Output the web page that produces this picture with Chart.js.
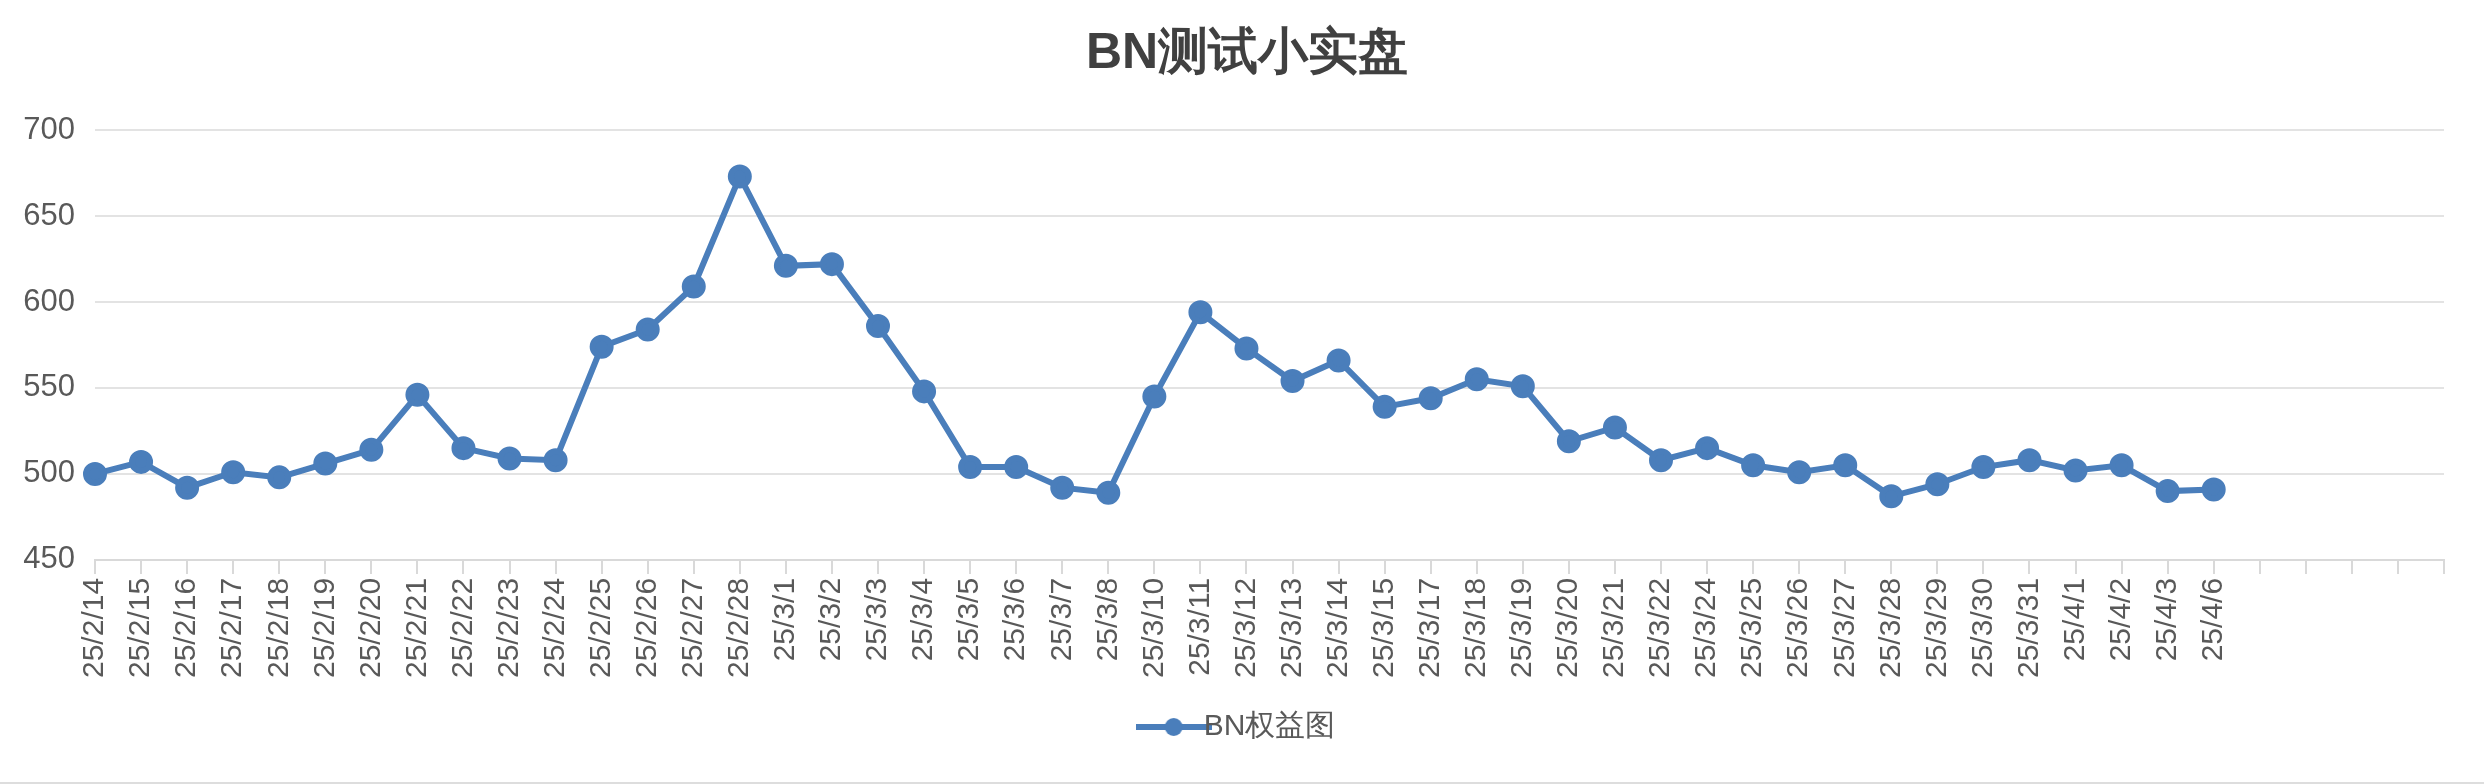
<!DOCTYPE html>
<html><head><meta charset="utf-8">
<script src="https://cdn.jsdelivr.net/npm/chart.js@4"></script>
<style>html,body{margin:0;padding:0;background:#fff}#w{width:2484px;height:782px;border-bottom:2px solid #ddd}</style>
</head><body><div id="w"><canvas id="c"></canvas></div>
<script>
const categories=["25/2/14","25/2/15","25/2/16","25/2/17","25/2/18","25/2/19","25/2/20","25/2/21","25/2/22","25/2/23","25/2/24","25/2/25","25/2/26","25/2/27","25/2/28","25/3/1","25/3/2","25/3/3","25/3/4","25/3/5","25/3/6","25/3/7","25/3/8","25/3/10","25/3/11","25/3/12","25/3/13","25/3/14","25/3/15","25/3/17","25/3/18","25/3/19","25/3/20","25/3/21","25/3/22","25/3/24","25/3/25","25/3/26","25/3/27","25/3/28","25/3/29","25/3/30","25/3/31","25/4/1","25/4/2","25/4/3","25/4/6","","","","",""];
const equity=[500,507,492,501,498,506,514,546,515,509,508,574,584,609,673,621,622,586,548,504,504,492,489,545,594,573,554,566,539,544,555,551,519,527,508,515,505,501,505,487,494,504,508,502,505,490,491];
const yTicks=[450,500,550,600,650,700];
const font="'Liberation Sans', Arial, sans-serif";
Chart.defaults.font.family=font;
Chart.defaults.color="#595959";
const COLOR='#4a7ebb';
const ls=document.createElement('canvas');ls.width=76;ls.height=22;
{const g=ls.getContext('2d');g.strokeStyle=COLOR;g.lineWidth=6;g.beginPath();g.moveTo(0,11);g.lineTo(76,11);g.stroke();g.fillStyle=COLOR;g.beginPath();g.arc(38,11,9,0,Math.PI*2);g.fill();}
new Chart(document.getElementById('c'),{type:'line',
data:{labels:categories,datasets:[{label:'BN权益图',data:equity,borderColor:COLOR,backgroundColor:COLOR,borderWidth:6,pointRadius:9,pointHoverRadius:9,tension:0,pointStyle:'circle'}]},
options:{responsive:true,maintainAspectRatio:false,animation:false,
layout:{padding:{left:10,right:0,top:0,bottom:30}},
plugins:{title:{display:true,text:'BN测试小实盘',color:'#404040',font:{size:50,weight:'bold'},padding:{top:24,bottom:46}},
legend:{position:'bottom',labels:{font:{size:30},color:'#595959',usePointStyle:true,padding:30,
generateLabels:c=>[{text:'BN权益图',pointStyle:ls,fillStyle:COLOR,strokeStyle:COLOR,lineWidth:0,datasetIndex:0,fontColor:'#595959'}]}},tooltip:{enabled:false}},
scales:{x:{offset:false,grid:{display:true,drawOnChartArea:false,color:'#d9d9d9',lineWidth:2,tickLength:14},border:{color:'#d9d9d9',width:2},
ticks:{autoSkip:false,maxRotation:90,minRotation:90,font:{size:30},color:'#595959',padding:4}},
y:{min:450,max:700,afterBuildTicks:s=>{s.ticks=yTicks.map(v=>({value:v}));},grid:{color:'#e3e3e3',lineWidth:2,drawTicks:false},border:{display:false},
ticks:{font:{size:31},color:'#595959',padding:20},afterFit:s=>{s.width=85;}}}}});
</script></body></html>
